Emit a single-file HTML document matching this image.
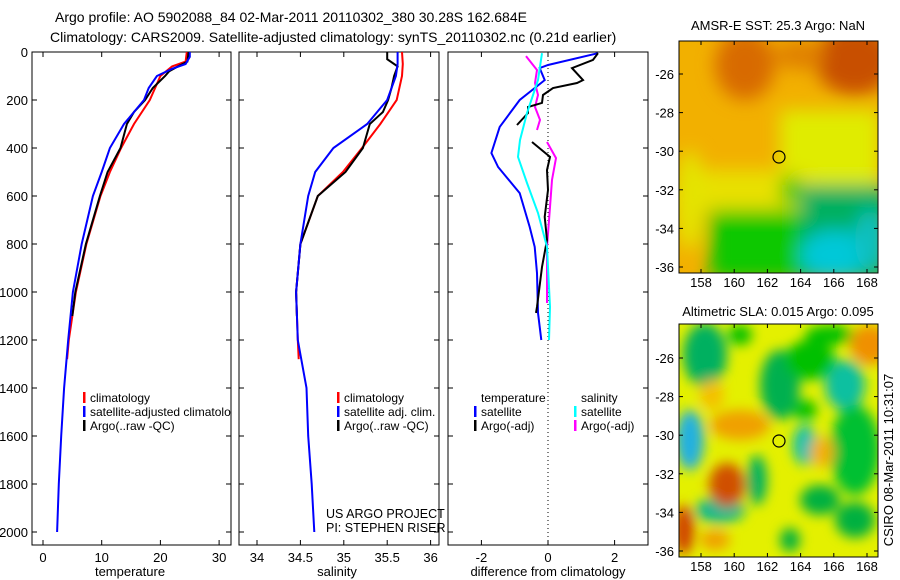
<!DOCTYPE html>
<html><head><meta charset="utf-8"><style>
html,body{margin:0;padding:0;background:#fff;}
svg{display:block;font-family:"Liberation Sans",sans-serif;}
</style></head><body>
<svg id="fig" width="900" height="580" viewBox="0 0 900 580" xmlns="http://www.w3.org/2000/svg">
<defs>
<filter id="bl1" x="-20%" y="-20%" width="140%" height="140%"><feGaussianBlur stdDeviation="9"/></filter>
<filter id="bl2" x="-20%" y="-20%" width="140%" height="140%"><feGaussianBlur stdDeviation="6"/></filter>
<clipPath id="cm1"><rect x="679" y="41" width="199" height="232"/></clipPath>
<clipPath id="cm2"><rect x="679" y="324" width="199" height="233"/></clipPath>
<clipPath id="cp1"><rect x="32" y="52" width="199" height="493"/></clipPath>
<clipPath id="cp2"><rect x="239" y="52" width="200" height="493"/></clipPath>
<clipPath id="cp3"><rect x="448" y="52" width="200" height="493"/></clipPath>
</defs>
<text x="55" y="22" font-size="14">Argo profile: AO 5902088_84 02-Mar-2011 20110302_380 30.28S 162.684E</text>
<text x="50" y="42" font-size="14">Climatology: CARS2009. Satellite-adjusted climatology: synTS_20110302.nc (0.21d earlier)</text>

<!-- map 1 -->
<g>
<g clip-path="url(#cm1)">
<rect x="679" y="41" width="199" height="232" fill="#f2b000"/>
<g filter="url(#bl1)">
<ellipse cx="745" cy="65" rx="30" ry="35" fill="#d86a00"/>
<ellipse cx="855" cy="60" rx="40" ry="35" fill="#c85000"/>
<ellipse cx="800" cy="55" rx="25" ry="15" fill="#e08000"/>
<rect x="780" y="110" width="100" height="80" fill="#e0ec00"/>
<rect x="690" y="170" width="120" height="40" fill="#e8e000"/>
<ellipse cx="690" cy="200" rx="15" ry="50" fill="#e4e400"/>
<rect x="710" y="210" width="100" height="70" fill="#10c800"/>
<rect x="800" y="185" width="90" height="95" fill="#00b060"/>
<ellipse cx="835" cy="255" rx="35" ry="25" fill="#00c8d8"/>
<ellipse cx="870" cy="240" rx="15" ry="30" fill="#10c0c0"/>
<ellipse cx="790" cy="190" rx="10" ry="15" fill="#30c800"/>
</g>
</g>
<circle cx="779" cy="157" r="6" fill="none" stroke="#000" stroke-width="1.2"/>
<rect x="679" y="41" width="199" height="232" fill="none" stroke="#000"/>
<text x="778" y="30" font-size="13" text-anchor="middle">AMSR-E SST: 25.3 Argo: NaN</text>
</g>
<!-- map 2 -->
<g>
<g clip-path="url(#cm2)">
<rect x="679" y="324" width="199" height="233" fill="#e4f000"/>
<g filter="url(#bl2)">
<ellipse cx="705" cy="355" rx="22" ry="32" fill="#00b060"/>
<ellipse cx="740" cy="335" rx="12" ry="10" fill="#00c000"/>
<ellipse cx="690" cy="440" rx="14" ry="30" fill="#20b0e0"/>
<ellipse cx="780" cy="385" rx="20" ry="35" fill="#00b050"/>
<ellipse cx="805" cy="445" rx="12" ry="20" fill="#10c0b0"/>
<ellipse cx="845" cy="385" rx="20" ry="25" fill="#10c0a0"/>
<ellipse cx="855" cy="450" rx="25" ry="45" fill="#00c030"/>
<ellipse cx="820" cy="500" rx="20" ry="15" fill="#00b040"/>
<ellipse cx="855" cy="520" rx="20" ry="18" fill="#00b040"/>
<ellipse cx="830" cy="335" rx="25" ry="10" fill="#00c000"/>
<ellipse cx="805" cy="410" rx="12" ry="10" fill="#00c000"/>
<ellipse cx="720" cy="510" rx="25" ry="13" fill="#10b890"/>
<ellipse cx="757" cy="480" rx="10" ry="25" fill="#00b060"/>
<ellipse cx="810" cy="360" rx="25" ry="20" fill="#00c000"/>
<ellipse cx="740" cy="425" rx="30" ry="15" fill="#f0a000"/>
<ellipse cx="727" cy="485" rx="18" ry="22" fill="#d05000"/>
<ellipse cx="870" cy="345" rx="20" ry="20" fill="#f09000"/>
<ellipse cx="822" cy="452" rx="12" ry="15" fill="#f4b000"/>
<ellipse cx="684" cy="530" rx="10" ry="25" fill="#d04000"/>
<ellipse cx="715" cy="540" rx="15" ry="10" fill="#f0a000"/>
<ellipse cx="790" cy="540" rx="10" ry="12" fill="#00b040"/>
<ellipse cx="712" cy="395" rx="12" ry="15" fill="#f4c000"/>
</g>
</g>
<circle cx="779" cy="441" r="6" fill="none" stroke="#000" stroke-width="1.2"/>
<rect x="679" y="324" width="199" height="233" fill="none" stroke="#000"/>
<text x="778" y="316" font-size="13" text-anchor="middle">Altimetric SLA: 0.015 Argo: 0.095</text>
</g>
<text transform="translate(893,460) rotate(-90)" font-size="13" text-anchor="middle">CSIRO 08-Mar-2011 10:31:07</text>
<text x="326" y="518" font-size="12.5">US ARGO PROJECT</text>
<text x="326" y="532" font-size="12.5">PI: STEPHEN RISER</text>
</svg>
<script>
// ---- data ----
const depthTicks=[0,200,400,600,800,1000,1200,1400,1600,1800,2000];
const tempTicks=[0,10,20,30];
const salTicks=[34,34.5,35,35.5,36];
const salTickLabels=["34","34.5","35","35.5","36"];
const diffTicks=[-2,0,2];
const lonTicks=[158,160,162,164,166,168];
const latTicks=[-26,-28,-30,-32,-34,-36];

const climTempDepth=[0,40,60,100,200,300,400,500,600,800,1000,1200,1280];
const climTempVal=[24.5,24.3,22,20,18.2,15.5,13.3,11.4,9.8,7.4,5.6,4.4,4.1];
const satTempDepth=[0,20,50,70,100,150,200,300,400,500,600,800,1000,1200,1400,1600,1800,2000];
const satTempVal=[25,25,24.3,22,19.4,18,17.2,13.8,11.4,10,8.5,6.6,5.1,4.3,3.6,3.1,2.7,2.4];
const argoTempDepth=[0,40,60,80,100,150,200,250,300,400,500,600,800,1000,1100];
const argoTempVal=[24.8,24.6,23,21.5,20.8,18.7,17.4,15.5,14.3,13.2,11,9.7,7.3,5.5,5];

const climSalDepth=[0,50,100,200,300,400,500,600,800,1000,1200,1280];
const climSalVal=[35.67,35.68,35.67,35.61,35.42,35.21,34.99,34.70,34.5,34.45,34.47,34.48];
const satSalDepth=[0,50,100,200,300,400,500,600,800,1000,1200,1400,1600,1800,2000];
const satSalVal=[35.62,35.62,35.6,35.5,35.27,34.88,34.67,34.59,34.5,34.45,34.47,34.57,34.59,34.63,34.66];
const argoSalDepth=[0,30,60,100,150,200,250,300,400,500,600,800,1000,1100];
const argoSalVal=[35.5,35.5,35.62,35.58,35.55,35.51,35.45,35.3,35.22,35.02,34.7,34.5,34.45,34.46];

const satTdDepth=[5,54,67,117,200,312,421,479,588,729,812,921,1087,1200];
const satTdVal=[1.5,0,-0.25,-0.1,-0.85,-1.45,-1.7,-1.5,-0.85,-0.55,-0.4,-0.33,-0.3,-0.2];
const argoTdDepth=[5,33,67,117,129,150,179,212,229,254,304,null,375,437,492,575,687,783,896,1062,1087];
const argoTdVal=[1.5,1.35,0.72,1.05,0.87,0.15,-0.15,-0.18,-0.6,-0.6,-0.93,null,-0.48,0.06,-0.03,0,-0.1,-0.03,-0.18,-0.33,-0.36];
const satSdDepth=[5,117,254,367,437,546,671,812,1062,1200];
const satSdVal=[-0.18,-0.3,-0.63,-0.84,-0.9,-0.63,-0.3,-0.03,0.06,0.03];
const argoSdDepth=[17,75,129,179,229,283,325,null,375,442,533,646,812,1046];
const argoSdVal=[-0.66,-0.33,-0.39,-0.3,-0.39,-0.24,-0.33,null,-0.03,0.24,0.12,0.06,-0.03,-0.03];

// ---- axes ----
const NS="http://www.w3.org/2000/svg";
const svg=document.getElementById('fig');
const yD=d=>52+d*0.24;
const xT=t=>43+t*5.87;
const xS=s=>257+(s-34)*86.8;
const xDf=v=>548+v*33.3;
const mapX=lon=>701+(lon-158)*16.6;
const map1Y=lat=>74+(-26-lat)*19.3;
const map2Y=lat=>358+(-26-lat)*19.3;

function mk(tag,attrs,parent){const e=document.createElementNS(NS,tag);for(const k in attrs)e.setAttribute(k,attrs[k]);(parent||svg).appendChild(e);return e;}

const panels=[{x0:32,x1:231,clip:'cp1',name:'temperature'},{x0:239,x1:439,clip:'cp2',name:'salinity'},{x0:448,x1:648,clip:'cp3',name:'difference'}];
panels.forEach(p=>{
  const r=mk('rect',{x:p.x0,y:52,width:p.x1-p.x0,height:493,fill:'none',stroke:'#000'});
  
  
  depthTicks.forEach(d=>{
    mk('line',{x1:p.x0,x2:p.x0+5,y1:yD(d),y2:yD(d),stroke:'#000'});
    mk('line',{x1:p.x1-5,x2:p.x1,y1:yD(d),y2:yD(d),stroke:'#000'});
  });
});
depthTicks.forEach(d=>{
  const t=mk('text',{x:28,y:yD(d)+5,'font-size':13,'text-anchor':'end'});
  t.textContent=d;
  
  
});
function xTicks(ticks,labels,f,p,nm){
  ticks.forEach((v,i)=>{
    const x=f(v);
    mk('line',{x1:x,x2:x,y1:52,y2:57,stroke:'#000'});
    mk('line',{x1:x,x2:x,y1:540,y2:545,stroke:'#000'});
    const t=mk('text',{x:x,y:562,'font-size':13,'text-anchor':'middle'});
    t.textContent=labels[i];
    
    
  });
}
xTicks(tempTicks,tempTicks.map(String),xT,panels[0],'temperature');
xTicks(salTicks,salTickLabels,xS,panels[1],'salinity');
xTicks(diffTicks,diffTicks.map(String),xDf,panels[2],'difference');
[['temperature',130,'temperature-axis-title'],['salinity',337,'salinity-axis-title'],['difference from climatology',548,'difference-axis-title']].forEach(a=>{
  const t=mk('text',{x:a[1],y:576,'font-size':13,'text-anchor':'middle'});
  t.textContent=a[0];
  
  
});
mk('line',{x1:548,x2:548,y1:52,y2:545,stroke:'#000','stroke-dasharray':'1 3'});

function series(ds,vs,fx,color,clip,nm){
  let d='',pen=false;
  for(let i=0;i<ds.length;i++){
    if(ds[i]===null){pen=false;continue;}
    d+=(pen?'L':'M')+fx(vs[i]).toFixed(1)+' '+yD(ds[i]).toFixed(1)+' ';pen=true;
  }
  const p=mk('path',{d:d,fill:'none',stroke:color,'stroke-width':2,'clip-path':'url(#'+clip+')'});
  
  
}
series(climTempDepth,climTempVal,xT,'#ff0000','cp1','climatology-temperature-line');
series(argoTempDepth,argoTempVal,xT,'#000','cp1','argo-temperature-line');
series(satTempDepth,satTempVal,xT,'#0000ff','cp1','satellite-temperature-line');
series(climSalDepth,climSalVal,xS,'#ff0000','cp2','climatology-salinity-line');
series(argoSalDepth,argoSalVal,xS,'#000','cp2','argo-salinity-line');
series(satSalDepth,satSalVal,xS,'#0000ff','cp2','satellite-salinity-line');
series(argoSdDepth,argoSdVal,xDf,'#ff00ff','cp3','argo-salinity-diff-line');
series(satTdDepth,satTdVal,xDf,'#0000ff','cp3','satellite-temperature-diff-line');
series(argoTdDepth,argoTdVal,xDf,'#000','cp3','argo-temperature-diff-line');
series(satSdDepth,satSdVal,xDf,'#00ffff','cp3','satellite-salinity-diff-line');

function legend(x,y,color,label,nm,clip){
  if(color){const m=mk('rect',{x:x,y:y-10,width:2.5,height:11,fill:color});
    
    }
  const t=mk('text',{x:x+7,y:y,'font-size':12,'clip-path':'url(#'+clip+')'});
  t.textContent=label;
  
  
}
legend(83,402,'#ff0000','climatology','legend-climatology-temp','cp1');
legend(83,416,'#0000ff','satellite-adjusted climatology','legend-satellite-temp','cp1');
legend(83,430,'#000','Argo(..raw -QC)','legend-argo-temp','cp1');
legend(337,402,'#ff0000','climatology','legend-climatology-sal','cp2');
legend(337,416,'#0000ff','satellite adj. clim.','legend-satellite-sal','cp2');
legend(337,430,'#000','Argo(..raw -QC)','legend-argo-sal','cp2');
legend(474,402,null,'temperature','legend-temperature-header','cp3');
legend(474,416,'#0000ff','satellite','legend-satellite-tdiff','cp3');
legend(474,430,'#000','Argo(-adj)','legend-argo-tdiff','cp3');
legend(574,402,null,'salinity','legend-salinity-header','cp3');
legend(574,416,'#00ffff','satellite','legend-satellite-sdiff','cp3');
legend(574,430,'#ff00ff','Argo(-adj)','legend-argo-sdiff','cp3');

// map axes
[[41,273,map1Y,'sst'],[324,557,map2Y,'sla']].forEach(m=>{
  lonTicks.forEach(l=>{
    const x=mapX(l);
    mk('line',{x1:x,x2:x,y1:m[0],y2:m[0]+4,stroke:'#000'});
    mk('line',{x1:x,x2:x,y1:m[1]-4,y2:m[1],stroke:'#000'});
    const t=mk('text',{x:x,y:m[1]+14,'font-size':13,'text-anchor':'middle'});
    t.textContent=l;
    
    
  });
  latTicks.forEach(l=>{
    const y=m[2](l);
    mk('line',{x1:679,x2:683,y1:y,y2:y,stroke:'#000'});
    mk('line',{x1:874,x2:878,y1:y,y2:y,stroke:'#000'});
    const t=mk('text',{x:674,y:y+5,'font-size':13,'text-anchor':'end'});
    t.textContent=l;
    
    
  });
});
</script>
</body></html>
